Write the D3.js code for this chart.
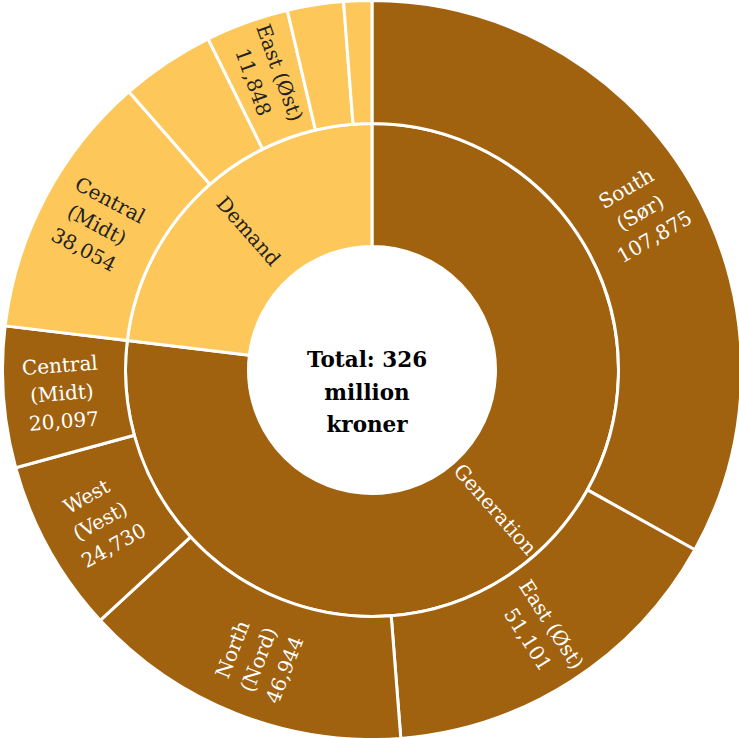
<!DOCTYPE html>
<html>
<head>
<meta charset="utf-8">
<script src="https://cdn.jsdelivr.net/npm/d3@7"></script>
<style>
  html, body { margin: 0; padding: 0; background: #fff; }
  svg { display: block; }
</style>
</head>
<body>
<svg id="chart" width="739" height="738"></svg>
<script>
// Top-level groups and their colours
const groups = ["Generation", "Demand"];
const groupColors = ["#A0620F", "#FEC759"];
const groupTextColors = ["#ffffff", "#222222"];

// Generation by region (thousand kroner)
const generationRegions = ["South\n(Sør)", "East (Øst)", "North\n(Nord)", "West\n(Vest)", "Central\n(Midt)"];
const generationValues = [107875, 51101, 46944, 24730, 20097];
const generationLabelled = [true, true, true, true, true];

// Demand by region (thousand kroner)
const demandRegions = ["Central\n(Midt)", "West (Vest)", "East (Øst)", "North (Nord)", "South (Sør)"];
const demandValues = [38054, 13400, 11848, 8000, 4000];
const demandLabelled = [true, false, true, false, false];

const centerLines = ["Total: 326", "million", "kroner"];

const width = 739, height = 738;
const cx = 372, cy = 370;

const svg = d3.select("#chart");

const tree = {
  name: "root",
  children: [
    { name: groups[0], gi: 0, children: generationRegions.map((n, i) => ({ name: n, value: generationValues[i], gi: 0, labelled: generationLabelled[i] })) },
    { name: groups[1], gi: 1, children: demandRegions.map((n, i) => ({ name: n, value: demandValues[i], gi: 1, labelled: demandLabelled[i] })) }
  ]
};

const root = d3.hierarchy(tree).sum(d => d.value || 0);
d3.partition().size([2 * Math.PI, 3])(root);

const radius = d3.scaleLinear().domain([1, 3]).range([123.5, 369.5]);

const arc = d3.arc()
  .startAngle(d => d.x0)
  .endAngle(d => d.x1)
  .innerRadius(d => radius(d.y0))
  .outerRadius(d => radius(d.y1));

const g = svg.append("g").attr("transform", `translate(${cx},${cy})`);

const nodes = root.descendants().filter(d => d.depth > 0);

g.selectAll("path")
  .data(nodes)
  .join("path")
  .attr("d", arc)
  .attr("fill", d => groupColors[d.data.gi])
  .attr("stroke", "#fff")
  .attr("stroke-width", 3)
  .attr("stroke-linejoin", "round");

const fmt = d3.format(",");
const fontSize = 20, lineH = 28;

const labelled = nodes.filter(d => d.depth === 1 || d.data.labelled);

const lbl = g.selectAll("g.lbl")
  .data(labelled)
  .join("g")
  .attr("class", "lbl")
  .attr("transform", d => {
    const a = (d.x0 + d.x1) / 2;
    const r = d.depth === 1 ? 186 : 311;
    const x = r * Math.sin(a), y = -r * Math.cos(a);
    let rot = a * 180 / Math.PI - 90;
    if (rot > 90) rot -= 180;
    if (rot < -90) rot += 180;
    return `translate(${x},${y}) rotate(${rot})`;
  });

lbl.each(function(d) {
  const lines = d.depth === 1 ? [d.data.name] : d.data.name.split("\n").concat([fmt(d.value)]);
  const t = d3.select(this).append("text")
    .attr("text-anchor", "middle")
    .attr("font-family", "'DejaVu Serif', serif")
    .attr("font-size", fontSize)
    .attr("fill", groupTextColors[d.data.gi]);
  const y0 = -(lines.length - 1) * lineH / 2 + fontSize * 0.36;
  lines.forEach((s, i) => {
    t.append("tspan").attr("x", 0).attr("y", y0 + i * lineH).text(s);
  });
});

// Centre total, set slightly below the ring's centre
const ct = g.append("text")
  .attr("text-anchor", "middle")
  .attr("font-family", "'DejaVu Serif', serif")
  .attr("font-weight", "bold")
  .attr("font-size", 21.5)
  .attr("fill", "#000");
const cLineH = 32.5;
centerLines.forEach((s, i) => {
  ct.append("tspan").attr("x", -5)
    .attr("y", -3 + i * cLineH)
    .text(s);
});
</script>
</body>
</html>
